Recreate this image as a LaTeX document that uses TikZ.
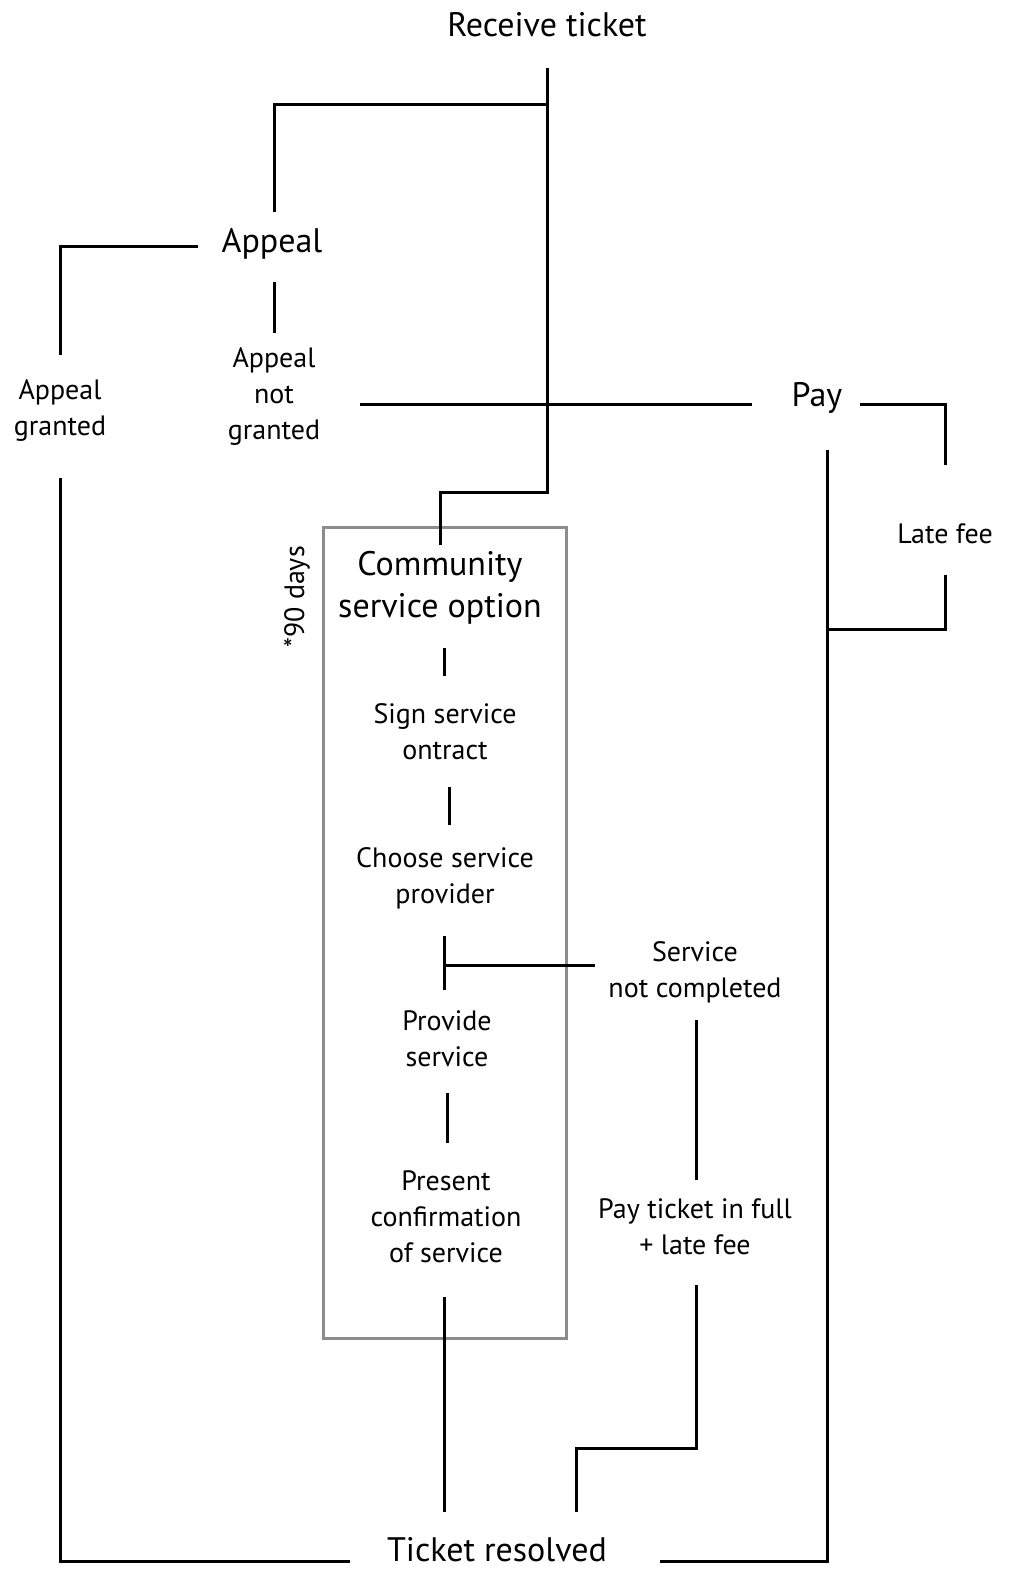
\documentclass[tikz,border=0pt]{standalone}
\usepackage{fontspec}
\setmainfont{PT Sans}
\begin{document}
\begin{tikzpicture}[x=1pt,y=-1pt,
  big/.style={font=\fontsize{34}{42}\selectfont, align=center, inner sep=0pt},
  small/.style={font=\fontsize{28}{36}\selectfont, align=center, inner sep=0pt},
  ln/.style={line width=3pt, draw=black},
  boxln/.style={line width=3pt, draw=black!45}]
\useasboundingbox (0,0) rectangle (1016,1596);
% nodes
\node[big] (rt) at (547,25) {Receive ticket};
\node[big] (ap) at (272,244) {Appeal};
\node[small] (ag) at (60,411) {Appeal\\granted};
\node[small] (ang) at (274,397) {Appeal\\not\\granted};
\node[big] (pay) at (817,398) {Pay};
\node[small] (lf) at (945,534) {Late fee};
\node[big] (cs) at (440,588) {Community\\service option};
\node[small, rotate=90] (nd) at (297,597) {*90 days};
\node[small] (ss) at (445,732) {Sign service\\ontract};
\node[small] (cp) at (445,878) {Choose service\\provider};
\node[small] (snc) at (695,972) {Service\\not completed};
\node[small] (ps) at (447,1039) {Provide\\service};
\node[small] (pt) at (695,1227) {Pay ticket in full\\+ late fee};
\node[small] (pc) at (446,1217) {Present\\confirmation\\of service};
\node[big] (tr) at (497,1550) {Ticket resolved};
% box
\draw[boxln] (323,527) rectangle (566,1338);
% coordinates
\coordinate (rtS) at (547,68);
\coordinate (jA) at (547,104);
\coordinate (jB) at (274,104);
\coordinate (apN) at (274,212);
\coordinate (apW) at (198,246);
\coordinate (jC) at (60,246);
\coordinate (agN) at (60,355);
\coordinate (agS) at (60,478);
\coordinate (jD) at (60,1561);
\coordinate (trW) at (350,1561);
\coordinate (apS) at (274,282);
\coordinate (angN) at (274,333);
\coordinate (angE) at (360,404);
\coordinate (payW) at (752,404);
\coordinate (payE) at (860,404);
\coordinate (jE) at (945,404);
\coordinate (lfN) at (945,465);
\coordinate (lfS) at (945,575);
\coordinate (jF) at (945,629);
\coordinate (jF2) at (827,629);
\coordinate (payS) at (827,450);
\coordinate (jG) at (827,1561);
\coordinate (trE) at (660,1561);
\coordinate (jH) at (547,492);
\coordinate (jI) at (440,492);
\coordinate (csN) at (440,545);
\coordinate (csS) at (444,648);
\coordinate (ssN) at (444,676);
\coordinate (ssS) at (449,787);
\coordinate (cpN) at (449,825);
\coordinate (cpS) at (444,936);
\coordinate (jJ) at (444,965);
\coordinate (psN) at (444,990);
\coordinate (sncW) at (595,965);
\coordinate (sncS) at (696,1020);
\coordinate (ptN) at (696,1180);
\coordinate (ptS) at (696,1285);
\coordinate (jK) at (696,1448);
\coordinate (jL) at (576,1448);
\coordinate (trN2) at (576,1512);
\coordinate (psS) at (447,1093);
\coordinate (pcN) at (447,1143);
\coordinate (pcS) at (444,1297);
\coordinate (trN) at (444,1512);
% connectors
\draw[ln] (rtS) -- (jH) -- (jI) -- (csN);
\draw[ln] (jA) -- (jB) -- (apN);
\draw[ln] (apW) -- (jC) -- (agN);
\draw[ln] (agS) -- (jD) -- (trW);
\draw[ln] (apS) -- (angN);
\draw[ln] (angE) -- (payW);
\draw[ln] (payE) -- (jE) -- (lfN);
\draw[ln] (lfS) -- (jF) -- (jF2);
\draw[ln] (payS) -- (jG) -- (trE);
\draw[ln] (csS) -- (ssN);
\draw[ln] (ssS) -- (cpN);
\draw[ln] (cpS) -- (psN);
\draw[ln] (jJ) -- (sncW);
\draw[ln] (sncS) -- (ptN);
\draw[ln] (ptS) -- (jK) -- (jL) -- (trN2);
\draw[ln] (psS) -- (pcN);
\draw[ln] (pcS) -- (trN);
\end{tikzpicture}
\end{document}
